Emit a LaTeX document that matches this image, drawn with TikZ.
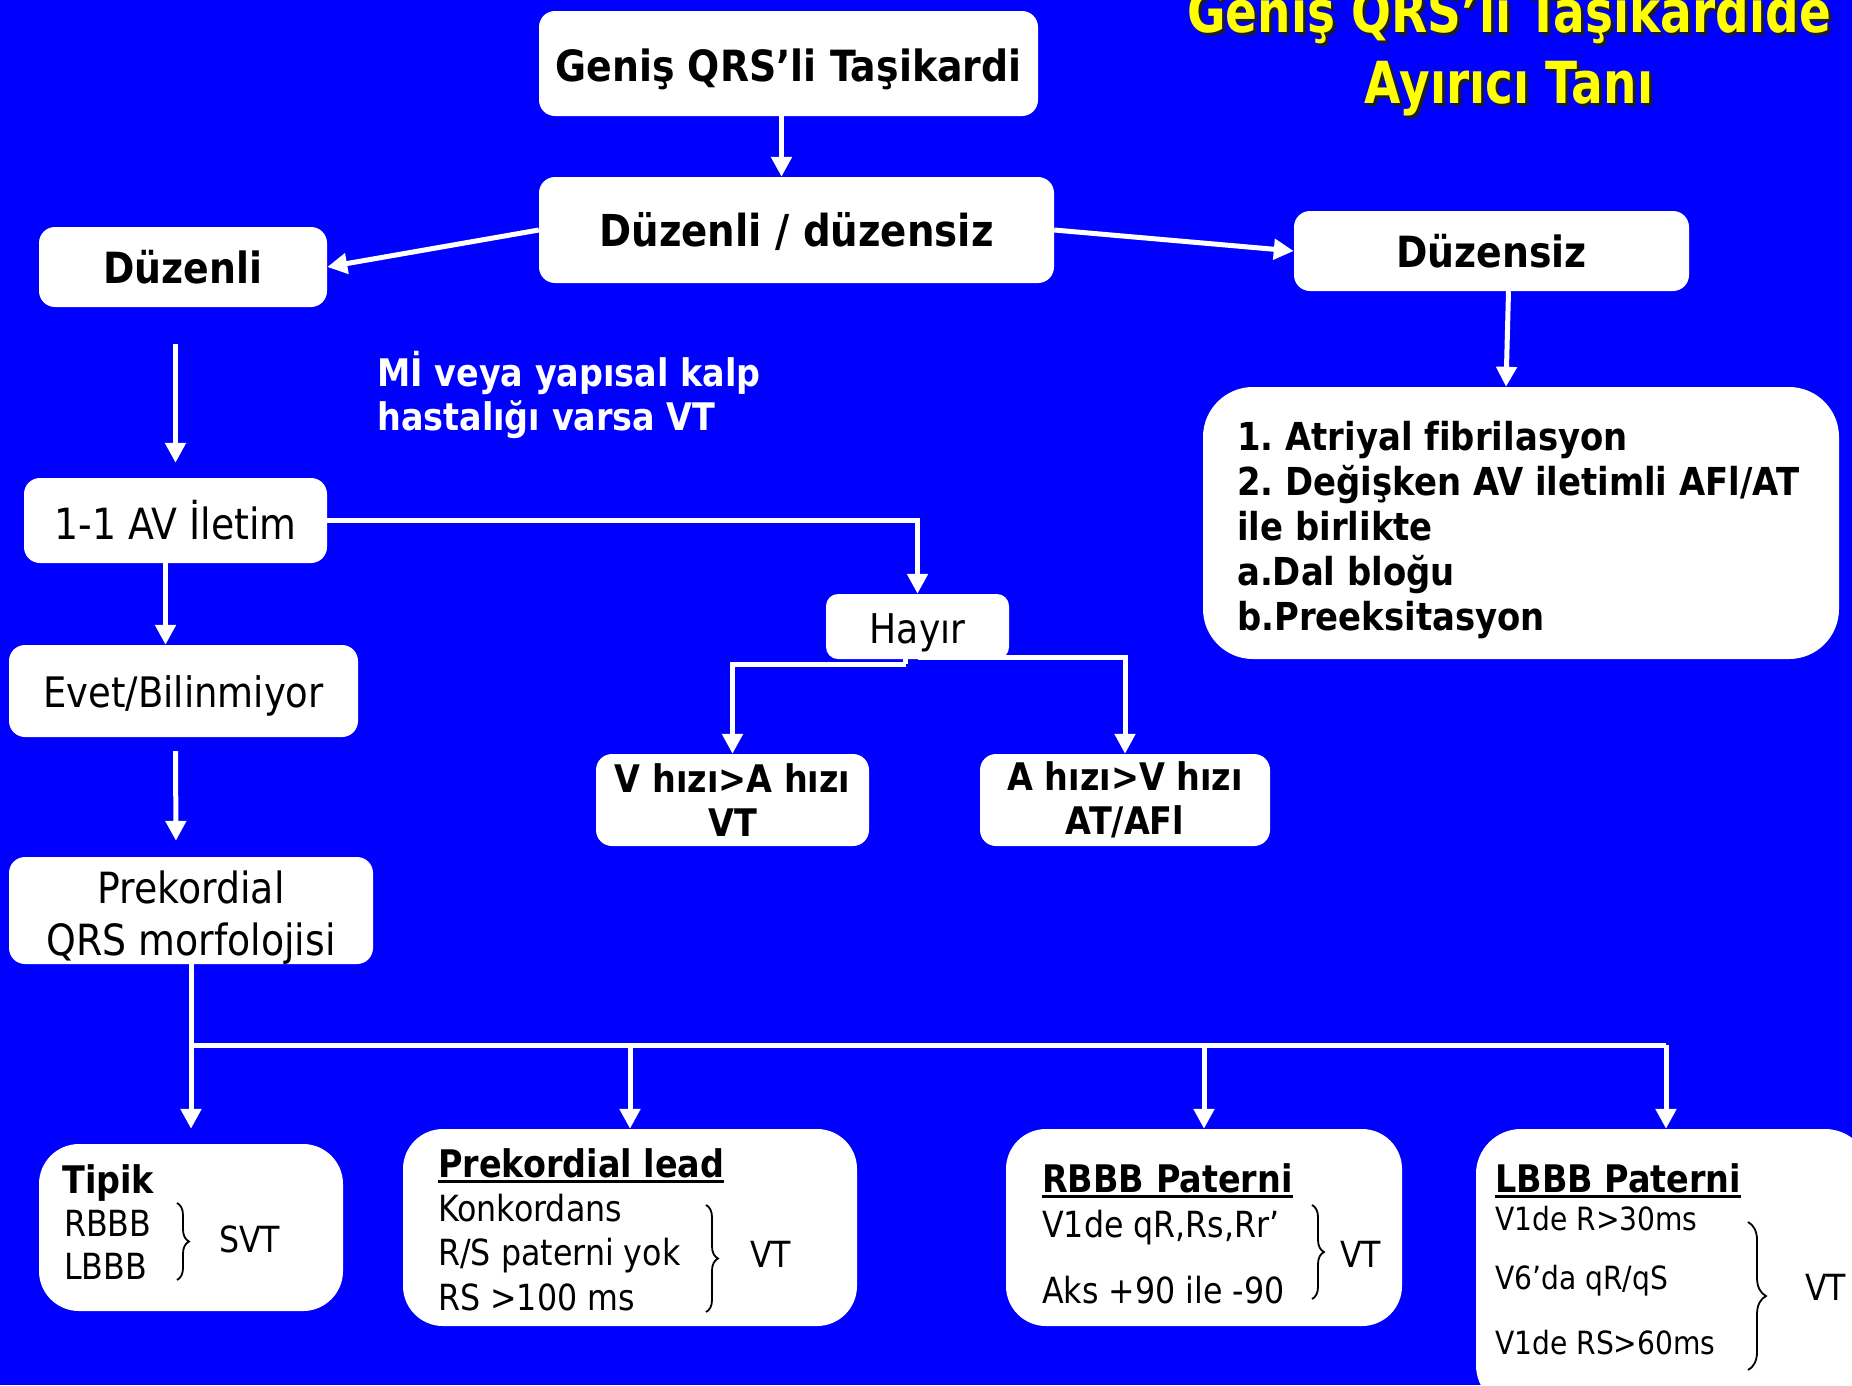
\documentclass[tikz,border=0pt]{standalone}
\usepackage{fontspec}
\setmainfont{DejaVu Sans}[FakeStretch=0.88, Ligatures=NoCommon]
\newfontfamily\titlefont{DejaVu Sans}[FakeStretch=0.81, Ligatures=NoCommon]
\usetikzlibrary{arrows.meta,decorations.pathreplacing,calc}
\definecolor{bgblue}{RGB}{0,0,255}
\definecolor{titleyellow}{RGB}{255,255,0}
\definecolor{titleshadow}{RGB}{30,30,40}
\frenchspacing
\newcommand\fs[2]{\fontsize{#1}{#2}\selectfont}
% underlined heading with a thick rule
\newcommand\ulbox[1]{\setbox0\hbox{#1}\rlap{\rule[-6pt]{\wd0}{3pt}}\box0}
% text with a dark drop shadow
\newcommand\shtext[1]{\rlap{\kern3pt\raisebox{-3pt}{\textcolor{titleshadow}{#1}}}#1}
% invisible strut that lowers a node's text a little
\newcommand\lift[1]{\rule{0pt}{#1}}
\begin{document}
\begin{tikzpicture}[x=1pt,y=-1pt,
  box/.style={fill=white, draw=none, rounded corners=16pt, inner sep=0pt, align=center, text=black},
  conn/.style={draw=white, line width=5pt},
  arr/.style={conn, -{Triangle[width=20pt,length=20pt]}},
  brc/.style={draw=black, line width=1.8pt, decorate, decoration={brace, amplitude=#1}},
  bt/.style={anchor=base west, inner sep=0pt, text=black, font=\fs{36}{42}},
  btb/.style={bt, font=\bfseries\fs{38}{44}},
  bts/.style={bt, font=\fs{32}{38}},
  hb/.style={font=\bfseries\fs{43}{52}},
  hr/.style={font=\fs{42}{50}}]
\useasboundingbox (0,0) rectangle (1852,1385);
\clip (0,0) rectangle (1852,1385);
\fill[bgblue] (0,0) rectangle (1852,1385);

% title
\node[anchor=base, inner sep=0pt, text=titleyellow, font=\titlefont\bfseries\fs{58}{71}] (title1) at (1509,32) {\shtext{Geniş QRS’li Taşikardide}};
\node[anchor=base, inner sep=0pt, text=titleyellow, font=\titlefont\bfseries\fs{58}{71}] (title2) at (1509,103) {\shtext{Ayırıcı Tanı}};

% upper flow
\node[box, hb, minimum width=499pt, minimum height=105pt] (top) at (788.5,63.5) {\lift{45pt}Geniş QRS’li Taşikardi};
\node[box, hb, font=\bfseries\fs{44}{52}, minimum width=515pt, minimum height=106pt] (mid) at (796.5,230) {\lift{38pt}Düzenli / düzensiz};
\node[box, hb, minimum width=288pt, minimum height=80pt] (duzenli) at (183,267) {Düzenli};
\node[box, hb, minimum width=395pt, minimum height=80pt] (duzensiz) at (1491.5,251) {Düzensiz};
\node[box, rounded corners=50pt, minimum width=636pt, minimum height=272pt] (afbox) at (1521,523) {};
\node[anchor=west, inner sep=0pt, align=left, text=black, font=\bfseries\fs{38.5}{45}] (aftext) at (1237,530)
  {1. Atriyal fibrilasyon\\2. Değişken AV iletimli AFl/AT\\ile birlikte\\a.Dal bloğu\\b.Preeksitasyon};
\node[anchor=west, inner sep=0pt, align=left, text=white, font=\bfseries\fs{38}{44}] (minote) at (377,395)
  {Mİ veya yapısal kalp\\hastalığı varsa VT};

\node[box, font=\fs{43}{50}, minimum width=303pt, minimum height=85pt] (av) at (175.5,520.5) {1-1 AV İletim};
\node[box, font=\fs{41}{50}, minimum width=183pt, minimum height=65pt, rounded corners=12pt] (hayir) at (917.5,626.5) {\lift{42pt}Hayır};
\node[box, font=\bfseries\fs{38}{44}, minimum width=273pt, minimum height=92pt] (vh) at (732.5,800) {V hızı>A hızı\\VT};
\node[box, font=\bfseries\fs{38}{44}, minimum width=290pt, minimum height=92pt] (ah) at (1125,800) {A hızı>V hızı\\AT/AFl};
\node[box, hr, minimum width=349pt, minimum height=92pt] (evet) at (183.5,691) {\lift{41pt}Evet/Bilinmiyor};
\node[box, font=\fs{43}{52}, minimum width=364pt, minimum height=107pt] (prek) at (191,910.5) {\lift{46pt}Prekordial\\QRS morfolojisi};

% lower boxes
\node[box, rounded corners=40pt, minimum width=304pt, minimum height=167pt] (tipik) at (191,1227.5) {};
\node[box, rounded corners=40pt, minimum width=454pt, minimum height=197pt] (plead) at (630,1227.5) {};
\node[box, rounded corners=40pt, minimum width=396pt, minimum height=197pt] (rbbb) at (1204,1227.5) {};
\node[box, rounded corners=45pt, minimum width=394pt, minimum height=281pt] (lbbb) at (1673,1269.5) {};

\node[btb] (tipikh) at (62,1193) {Tipik};
\node[bt] (tipik1) at (64,1236) {RBBB};
\node[bt] (tipik2) at (64,1279) {LBBB};
\draw[brc=12pt] (177,1203) -- (177,1280);
\node[bt] (svt) at (219,1252) {SVT};

\node[btb] (pleadh) at (438,1177) {\ulbox{Prekordial lead}};
\node[bt] (plead1) at (438,1221) {Konkordans};
\node[bt] (plead2) at (438,1265) {R/S paterni yok};
\node[bt] (plead3) at (438,1310) {RS >100 ms};
\draw[brc=12pt] (706,1205) -- (706,1312);
\node[bt] (pleadvt) at (750,1267) {VT};

\node[btb] (rbbbh) at (1042,1192) {\ulbox{RBBB Paterni}};
\node[bt] (rbbb1) at (1042,1237) {V1de qR,Rs,Rr’};
\node[bt] (rbbb2) at (1042,1303) {Aks +90 ile -90};
\draw[brc=12pt] (1312,1205) -- (1312,1299);
\node[bt] (rbbbvt) at (1340,1267) {VT};

\node[btb] (lbbbh) at (1495,1192) {\ulbox{LBBB Paterni}};
\node[bts] (lbbb1) at (1495,1230) {V1de R>30ms};
\node[bts] (lbbb2) at (1495,1289) {V6’da qR/qS};
\node[bts] (lbbb3) at (1495,1354) {V1de RS>60ms};
\draw[brc=18pt] (1748,1222) -- (1748,1370);
\node[bt] (lbbbvt) at (1805,1300) {VT};

% connectors
\draw[arr] ([xshift=-7pt]top.south) -- ([xshift=-7pt]top.south |- mid.north);
\draw[arr] (mid.west) -- (duzenli.east);
\draw[arr] (mid.east) -- (duzensiz.west);
\draw[arr] ([xshift=17pt]duzensiz.south) -- ([xshift=-15pt]afbox.north);
\draw[arr, shorten <=37pt, shorten >=15pt] (duzenli.south -| av.north) -- (av.north);
\draw[arr] (av.east) -| (hayir.north);
\draw[arr] ([xshift=-10pt]av.south) -- ([xshift=-10pt]av.south |- evet.north);
\draw[conn] ([xshift=-12pt]hayir.south) -- ([xshift=-12pt,yshift=-5pt]hayir.south);
\draw[arr] ([xshift=-12pt,yshift=-5pt]hayir.south) -| (vh.north);
\draw[arr] ([yshift=2pt]hayir.south) -| (ah.north);
\draw[arr, shorten <=14pt, shorten >=16pt] (evet.south -| av.north) -- ([xshift=-15pt]prek.north);

\coordinate (busL) at (prek.south |- 0,1045);
\coordinate (busR) at (1666,1045);
\draw[arr, shorten >=15pt] (prek.south) -- (tipik.north);
\draw[conn] (busL) -- (busR);
\draw[arr] (busL -| plead.north) -- (plead.north);
\draw[arr] (busL -| rbbb.north) -- (rbbb.north);
\draw[arr] (busR) -- (busR |- lbbb.north);
\end{tikzpicture}
\end{document}
